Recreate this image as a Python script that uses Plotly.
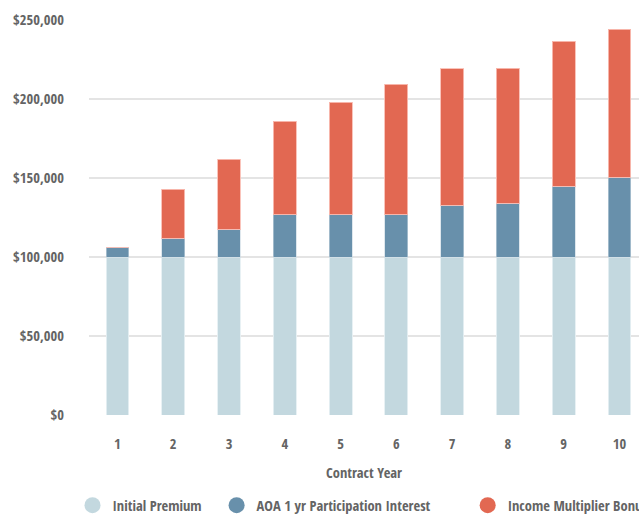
import plotly.graph_objects as go

years = [1, 2, 3, 4, 5, 6, 7, 8, 9, 10]
initial_premium = [100000] * 10
aoa_interest = [6100, 11800, 17500, 26800, 26800, 26800, 32900, 34000, 44900, 50400]
income_bonus = [0, 31000, 44300, 59100, 71100, 82500, 86300, 85600, 91800, 93900]
y_ticks = [0, 50000, 100000, 150000, 200000, 250000]
y_tick_labels = ["$0", "$50,000", "$100,000", "$150,000", "$200,000", "$250,000"]

names = ["Initial Premium", "AOA 1 yr Participation Interest", "Income Multiplier Bonus"]
colors = ["#c3d8df", "#6890ab", "#e26852"]
edges = ["rgba(230,240,243,0.9)", "rgba(200,215,225,0.6)", "rgba(250,190,180,0.9)"]
series = [initial_premium, aoa_interest, income_bonus]

FONT = "Open Sans Condensed, Roboto Condensed, sans-serif"
TXT = "#646464"
FS = 14.5

fig = go.Figure()
for name, vals, c, e in zip(names, series, colors, edges):
    fig.add_trace(go.Bar(x=years, y=vals, name=name, marker=dict(color=c, line=dict(color=e, width=1)),
                         width=0.41, showlegend=False))
legend_ids = ["legend", "legend2", "legend3"]
for name, c, lid in zip(names, colors, legend_ids):
    fig.add_trace(go.Scatter(x=[None], y=[None], mode="markers", name="<b>%s</b>" % name, legend=lid,
                             marker=dict(symbol="circle", size=20, color=c)))

legend_x = [-0.03, 0.232, 0.6885]
leg_common = dict(orientation="h", xanchor="left", y=-0.188, yanchor="top",
                  font=dict(family=FONT, size=FS, color=TXT), itemsizing="trace", bgcolor="rgba(0,0,0,0)")

fig.update_layout(
    barmode="stack",
    width=639, height=516,
    margin=dict(l=89, r=0, t=20, b=101, autoexpand=False),
    paper_bgcolor="white", plot_bgcolor="white",
    font=dict(family=FONT, size=FS, color=TXT),
    xaxis=dict(range=[0.49, 10.35], tickvals=years, ticktext=["<b>%d</b>" % y for y in years],
               showgrid=False, zeroline=False, showline=False, ticks="", ticklabelstandoff=18,
               tickfont=dict(family=FONT, size=FS, color=TXT),
               title=dict(text="<b>Contract Year</b>", font=dict(family=FONT, size=FS, color=TXT), standoff=16)),
    yaxis=dict(range=[0, 250000], tickvals=y_ticks, ticktext=["<b>%s</b>" % t for t in y_tick_labels],
               showgrid=True, gridcolor="#e4e4e4", gridwidth=2, zeroline=False, showline=False,
               ticks="", ticklabelstandoff=24, tickfont=dict(family=FONT, size=FS, color=TXT)),
    legend=dict(x=legend_x[0], **leg_common),
    legend2=dict(x=legend_x[1], **leg_common),
    legend3=dict(x=legend_x[2], **leg_common),
    bargap=0.6,
)

fig.write_html("out.html")
